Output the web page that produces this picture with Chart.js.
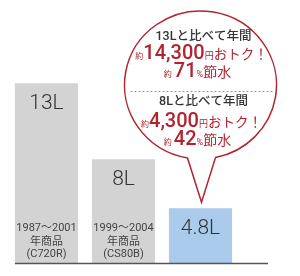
<!DOCTYPE html>
<html>
<head>
<meta charset="utf-8">
<script src="https://cdn.jsdelivr.net/npm/chart.js@4"></script>
<style>
  body { margin: 0; background: #fff; }
  #wrap { width: 300px; height: 276px; }
</style>
</head>
<body>
<div id="wrap"><canvas id="waterChart"></canvas></div>
<script>
const periods = ['1987～2001', '1999～2004', ''];
const models = ['C720R', 'CS80B', ''];
const litres = [13, 8, 4.8];

// bubble: compared with 13L and 8L
const compareWith = [13, 8];
const savingsYen = [14300, 4300];
const savingsPct = [71, 42];

const RED = '#b3232e';
const CJK = 'Roboto, "Noto Sans CJK JP", sans-serif';
const NUM = 'Roboto, "Liberation Sans", sans-serif';

function drawRuns(ctx, runs, cx, y) {
    let total = 0;
    runs.forEach(r => {
        ctx.font = r.font;
        r.w = ctx.measureText(r.text).width;
        total += r.w;
    });
    let x = cx - total / 2;
    ctx.textAlign = 'left';
    ctx.textBaseline = 'alphabetic';
    runs.forEach(r => {
        ctx.font = r.font;
        ctx.fillStyle = r.color;
        ctx.fillText(r.text, x, y);
        x += r.w;
    });
}

const overlay = {
    id: 'overlay',
    afterDatasetsDraw(chart) {
        const ctx = chart.ctx;
        const area = chart.chartArea;
        const bars = chart.getDatasetMeta(0).data;
        ctx.save();

        // baseline
        ctx.strokeStyle = '#555';
        ctx.lineWidth = 1.5;
        ctx.beginPath();
        ctx.moveTo(bars[0].x - bars[0].width / 2, area.bottom + 0.5);
        ctx.lineTo(268, area.bottom + 0.5);
        ctx.stroke();

        // value labels inside bars
        ctx.fillStyle = '#333';
        ctx.textAlign = 'center';
        ctx.font = '300 21px ' + NUM;
        bars.forEach((b, i) => {
            ctx.fillText(litres[i] + 'L', b.x, b.y + 26);
        });

        // product labels at bar base
        ctx.fillStyle = '#444';
        bars.forEach((b, i) => {
            if (!periods[i]) return;
            ctx.font = '11px ' + CJK;
            ctx.fillText(periods[i], b.x, area.bottom - 32);
            ctx.fillText('年商品', b.x, area.bottom - 18.5);
            ctx.fillText('(' + models[i] + ')', b.x, area.bottom - 6.5);
        });

        // speech bubble pointing at the last bar
        const tb = bars[2];
        const cx = tb.x, cy = 85, rx = 76, ry = 74;
        const t0 = Math.acos(-13 / rx), t1 = Math.acos(15 / rx);
        ctx.beginPath();
        ctx.ellipse(cx, cy, rx, ry, 0, t0, t1 + Math.PI * 2);
        ctx.lineTo(tb.x + 1, tb.y - 6);
        ctx.closePath();
        ctx.fillStyle = '#fff';
        ctx.fill();
        ctx.strokeStyle = RED;
        ctx.lineWidth = 1.5;
        ctx.stroke();

        // dotted separator
        ctx.strokeStyle = '#9a9a9a';
        ctx.lineWidth = 1;
        ctx.setLineDash([2, 2]);
        ctx.beginPath();
        ctx.moveTo(cx - 70, 91.5);
        ctx.lineTo(cx + 74, 91.5);
        ctx.stroke();
        ctx.setLineDash([]);

        const baseY = [[40, 59, 77], [104.5, 127, 145]];
        compareWith.forEach((c, k) => {
            const [y1, y2, y3] = baseY[k];
            drawRuns(ctx, [{ text: c + 'Lと比べて年間', font: '500 12.5px ' + CJK, color: '#333' }], cx + 3, y1);
            drawRuns(ctx, [
                { text: '約', font: '8px ' + CJK, color: RED },
                { text: savingsYen[k].toLocaleString('en-US'), font: '500 20px ' + NUM, color: RED },
                { text: '円', font: '9px ' + CJK, color: RED },
                { text: 'おトク！', font: '13.5px ' + CJK, color: RED }
            ], cx + 1, y2);
            drawRuns(ctx, [
                { text: '約 ', font: '8px ' + CJK, color: RED },
                { text: String(savingsPct[k]), font: '500 20px ' + NUM, color: RED },
                { text: '%', font: '9px ' + CJK, color: RED },
                { text: '節水', font: '14px ' + CJK, color: RED }
            ], cx - 3, y3);
        });

        ctx.restore();
    }
};

new Chart(document.getElementById('waterChart').getContext('2d'), {
    type: 'bar',
    data: {
        labels: models,
        datasets: [{
            data: litres,
            backgroundColor: ['#d3d3d3', '#d3d3d3', '#aacbeb'],
            borderWidth: 0,
            barPercentage: 0.82,
            categoryPercentage: 1
        }]
    },
    options: {
        responsive: true,
        maintainAspectRatio: false,
        animation: false,
        layout: { padding: { left: 8, right: 61, top: 10, bottom: 13 } },
        plugins: { legend: { display: false }, tooltip: { enabled: false } },
        scales: {
            x: { display: false },
            y: { display: false, min: 1.2, max: 17.8 }
        }
    },
    plugins: [overlay]
});
</script>
</body>
</html>
